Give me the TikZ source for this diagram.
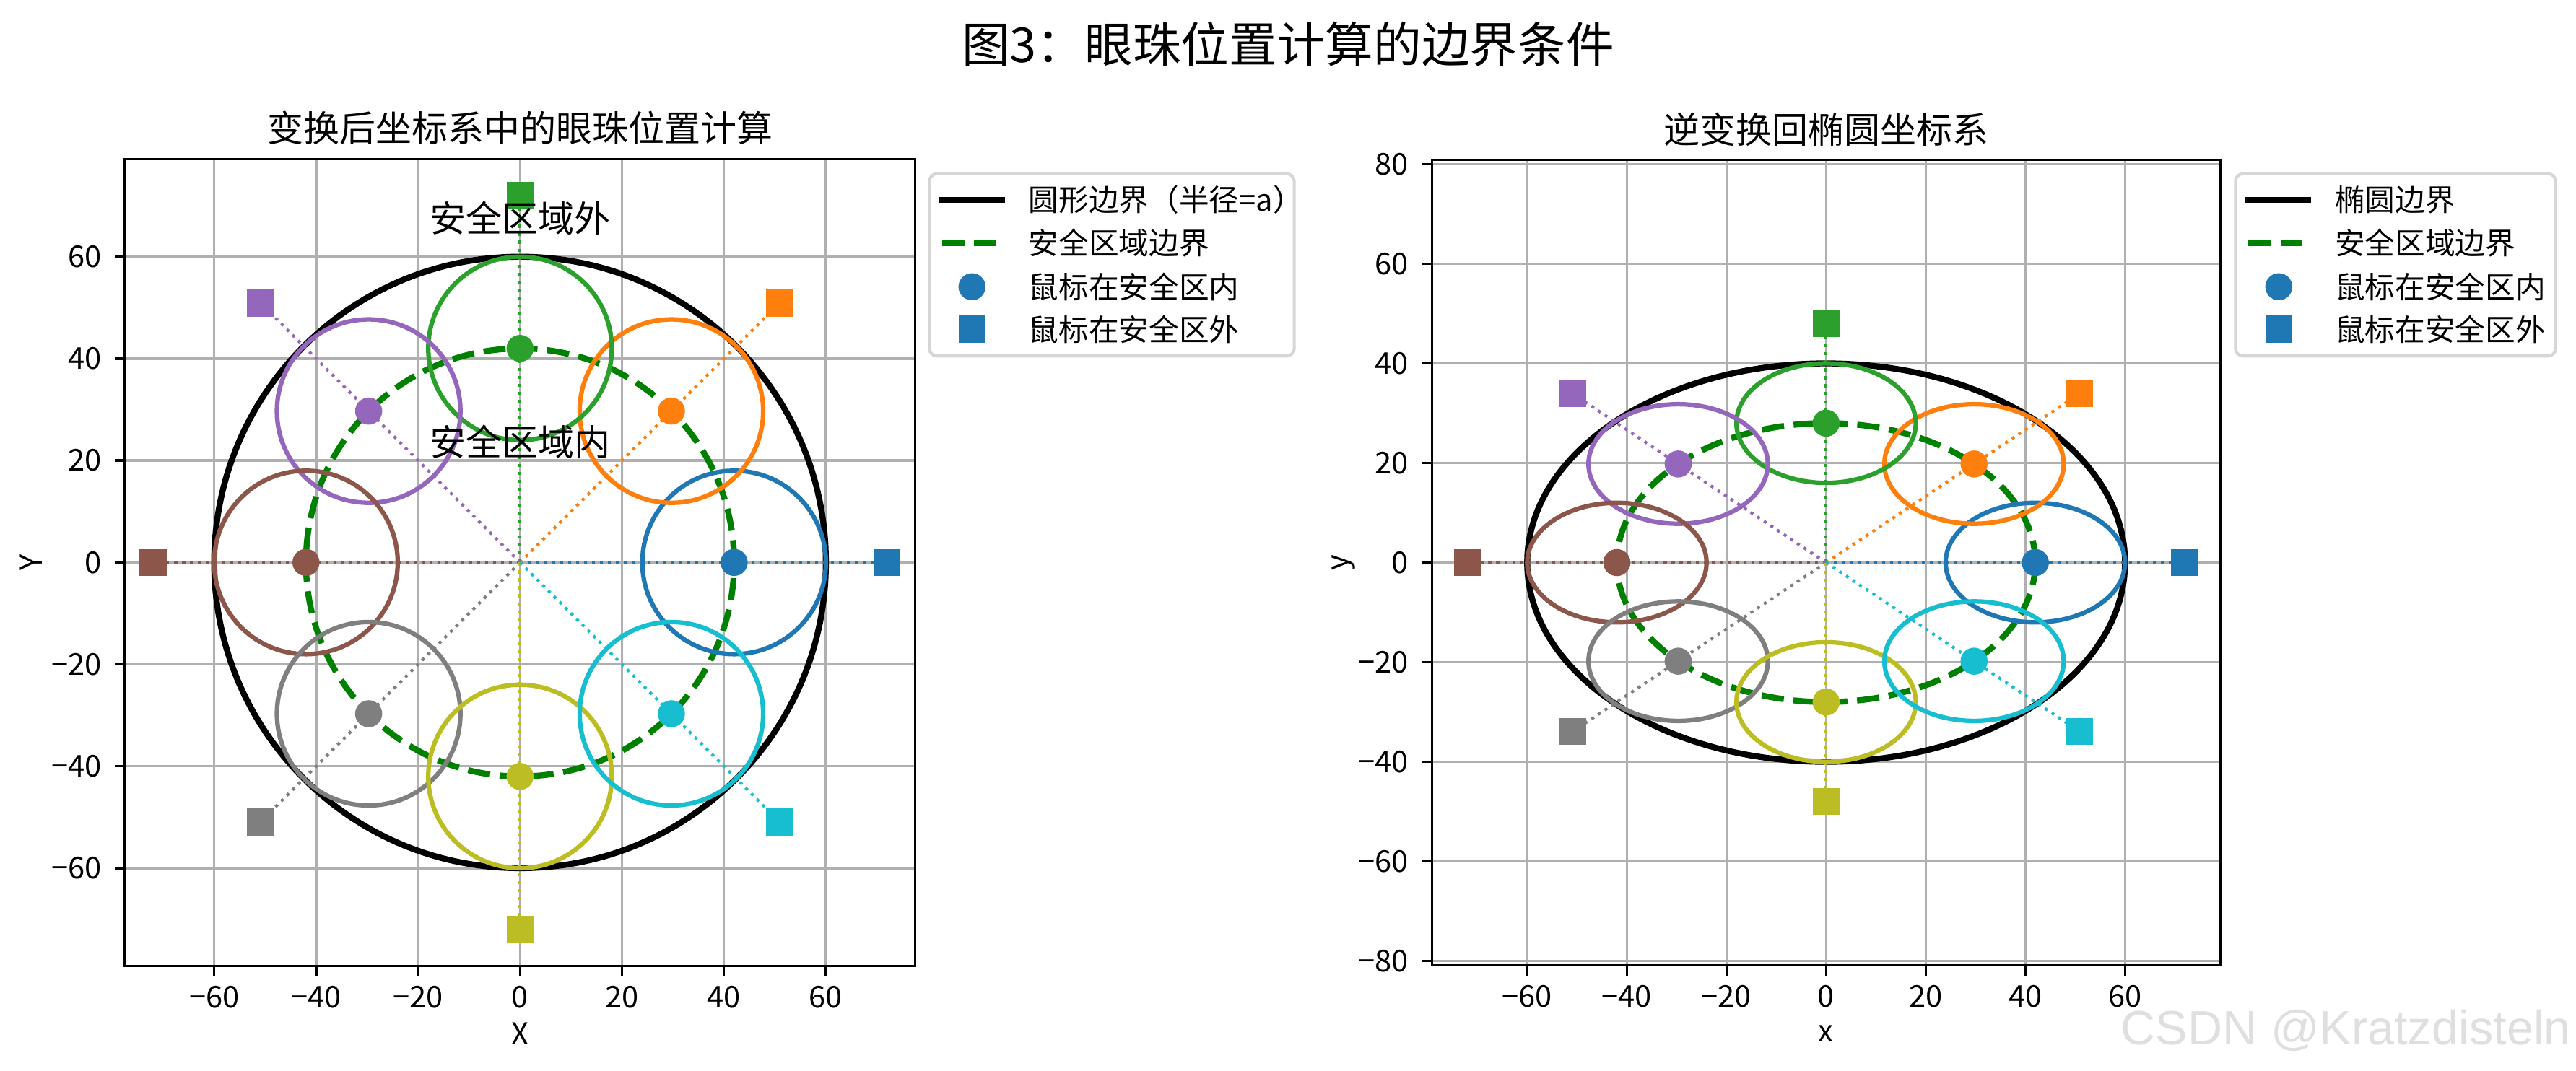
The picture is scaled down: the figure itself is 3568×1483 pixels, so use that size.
\documentclass[tikz,border=0pt]{standalone}
\usepackage{fontspec}
\setmainfont{Noto Sans CJK SC}
\newfontfamily\markfont{Liberation Sans}
\definecolor{tabblue}{HTML}{1F77B4}
\definecolor{taborange}{HTML}{FF7F0E}
\definecolor{tabgreen}{HTML}{2CA02C}
\definecolor{tabpurple}{HTML}{9467BD}
\definecolor{tabbrown}{HTML}{8C564B}
\definecolor{tabgray}{HTML}{7F7F7F}
\definecolor{tabolive}{HTML}{BCBD22}
\definecolor{tabcyan}{HTML}{17BECF}
\definecolor{gridgray}{HTML}{B0B0B0}
\definecolor{safegreen}{HTML}{008000}
\definecolor{legedge}{HTML}{D6D6D6}
\tikzset{
  grd/.style={draw=gridgray, line width=0.8pt},
  spine/.style={draw=black, line width=0.8pt},
  bnd/.style={draw=black, line width=2pt},
  safe/.style={draw=safegreen, line width=2pt, dash pattern=on 7.4pt off 3.2pt},
  eye/.style={line width=1.5pt},
  ray/.style={line width=1pt, dash pattern=on 1pt off 1.65pt},
  inpt/.style={circle, inner sep=0pt, minimum size=9pt},
  outpt/.style={rectangle, inner sep=0pt, minimum size=9pt},
  ticklab/.style={inner sep=0pt, font=\fontsize{10}{12}\selectfont},
  ttl/.style={inner sep=0pt, font=\fontsize{12}{14}\selectfont},
  legbox/.style={draw=legedge, fill=white, line width=1pt, rounded corners=2.5pt},
  legtxt/.style={anchor=west, inner sep=0pt, font=\fontsize{10}{12}\selectfont},
}

\begin{document}
\begin{tikzpicture}[x=0.24pt, y=-0.24pt]
\fill[white] (0,0) rectangle (3568,1483);
\useasboundingbox (0,0) rectangle (3568,1483);

\node[inner sep=0pt, font=\fontsize{16}{19}\selectfont] (sup) at (1784,61) {图3：眼珠位置计算的边界条件};
\node[ttl] (ttlA) at (720.3,177) {变换后坐标系中的眼珠位置计算};
\node[ttl] (ttlB) at (2529.3,179) {逆变换回椭圆坐标系};

% transformed (circle) coordinates
\begin{scope}[shift={(720.3,779.3)}, x=1.6944pt, y=1.6944pt]
\foreach \v in {-60,-40,...,60}
  \draw[grd] (\v,-79.2) -- (\v,79.2) (-77.5,\v) -- (77.5,\v);
\draw[bnd] (0,0) circle (60);
\draw[safe] (0,0) circle (42);
\coordinate (oA) at (0,0);
\foreach \a/\c [count=\i] in {0/tabblue,45/taborange,90/tabgreen,135/tabpurple,180/tabbrown,225/tabgray,270/tabolive,315/tabcyan} {
  \coordinate (qA\i) at (\a:72);
  \draw[ray, \c] (oA) -- (qA\i);
  \draw[eye, \c] (\a:42) circle (18);
  \node[inpt, fill=\c] (pA\i) at (\a:42) {};
  \node[outpt, fill=\c] (sA\i) at (qA\i) {};
}
\node[ttl] (outA) at (0,67.6) {安全区域外};
\node[ttl] (inA) at (0,23.6) {安全区域内};
\draw[spine] (-77.5,-79.2) rectangle (77.5,79.2);
\foreach \v/\t [count=\i] in {-60/−60,-40/−40,-20/−20,0/0,20/20,40/40,60/60} {
  \draw[spine] (\v,-79.2) -- ++(0pt,-3.5pt);
  \node[ticklab] (xA\i) at ([yshift=-10.4pt]\v,-79.2) {\t};
  \draw[spine] (-77.5,\v) -- ++(-3.5pt,0pt);
  \node[ticklab, anchor=east] (yA\i) at ([xshift=-7.6pt]-77.5,\v) {\t};
}
\end{scope}
\node[ticklab] (labxA) at (720.3,1432.5) {X};
\node[ticklab, rotate=90] (labyA) at (43,779.3) {Y};

% back to ellipse coordinates
\begin{scope}[shift={(2529.3,779.5)}, x=1.656pt, y=1.656pt]
\foreach \v in {-60,-40,...,60}
  \draw[grd] (\v,-80.9) -- (\v,80.9);
\foreach \v in {-80,-60,...,80}
  \draw[grd] (-79.1,\v) -- (79.1,\v);
\draw[bnd] (0,0) ellipse (60 and 40);
\draw[safe] (0,0) ellipse (42 and 28);
\coordinate (oB) at (0,0);
\foreach \a/\c [count=\i] in {0/tabblue,45/taborange,90/tabgreen,135/tabpurple,180/tabbrown,225/tabgray,270/tabolive,315/tabcyan} {
  \coordinate (qB\i) at (\a:72 and 48);
  \draw[ray, \c] (oB) -- (qB\i);
  \draw[eye, \c] (\a:42 and 28) ellipse (18 and 12);
  \node[inpt, fill=\c] (pB\i) at (\a:42 and 28) {};
  \node[outpt, fill=\c] (sB\i) at (qB\i) {};
}
\draw[spine] (-79.1,-80.9) rectangle (79.1,80.9);
\foreach \v/\t [count=\i] in {-60/−60,-40/−40,-20/−20,0/0,20/20,40/40,60/60} {
  \draw[spine] (\v,-80.9) -- ++(0pt,-3.5pt);
  \node[ticklab] (xB\i) at ([yshift=-10.4pt]\v,-80.9) {\t};
}
\foreach \v/\t [count=\i] in {-80/−80,-60/−60,-40/−40,-20/−20,0/0,20/20,40/40,60/60,80/80} {
  \draw[spine] (-79.1,\v) -- ++(-3.5pt,0pt);
  \node[ticklab, anchor=east] (yB\i) at ([xshift=-7.6pt]-79.1,\v) {\t};
}
\end{scope}
\node[ticklab] (labxB) at (2529.3,1432.5) {x};
\node[ticklab, rotate=90] (labyB) at (1861,779.5) {y};

% legends
\draw[legbox] (1287.3,240.7) rectangle (1792.6,493.3);
\draw[bnd] (1300.7,276.7) -- (1392,276.7);
\draw[safe] (1305,336.7) -- (1380,336.7);
\node[inpt, fill=tabblue] (lgA3) at (1346.3,397.3) {};
\node[outpt, fill=tabblue] (lgA4) at (1346.3,456) {};
\node[legtxt] (ltA1) at (1424,276.7) {圆形边界（半径=a）};
\node[legtxt] (ltA2) at (1424,336.7) {安全区域边界};
\node[legtxt] (ltA3) at (1424,397.3) {鼠标在安全区内};
\node[legtxt] (ltA4) at (1424,456) {鼠标在安全区外};

\draw[legbox] (3096.3,240.7) rectangle (3539.7,493.3);
\draw[bnd] (3110,276.7) -- (3200.7,276.7);
\draw[safe] (3114.3,336.7) -- (3189.3,336.7);
\node[inpt, fill=tabblue] (lgB3) at (3156.3,397.3) {};
\node[outpt, fill=tabblue] (lgB4) at (3156.3,456) {};
\node[legtxt] (ltB1) at (3233.3,276.7) {椭圆边界};
\node[legtxt] (ltB2) at (3233.3,336.7) {安全区域边界};
\node[legtxt] (ltB3) at (3233.3,397.3) {鼠标在安全区内};
\node[legtxt] (ltB4) at (3233.3,456) {鼠标在安全区外};

\node[anchor=base, inner sep=0pt, text=gray!25, font=\markfont\fontsize{16}{19}\selectfont] (wm) at (3249.4,1447) {CSDN @Kratzdisteln};
\end{tikzpicture}
\end{document}
